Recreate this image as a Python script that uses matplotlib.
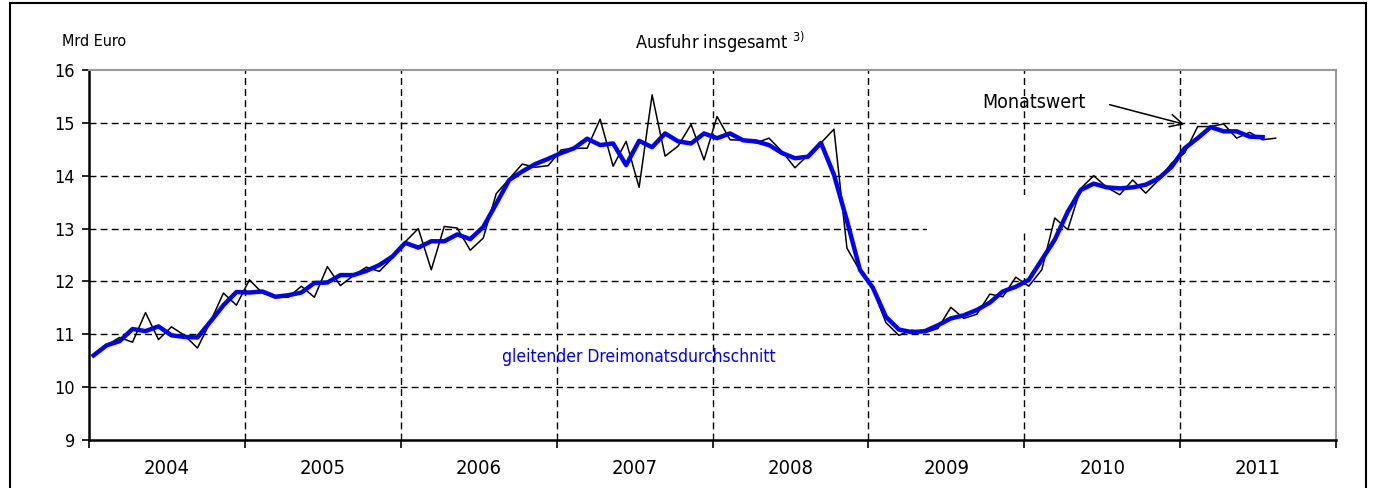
import matplotlib
matplotlib.use("Agg")
import matplotlib.pyplot as plt
from matplotlib.patches import Rectangle, FancyArrowPatch
import numpy as np

plt.rcParams['font.family'] = ['DejaVu Sans']
plt.rcParams['font.stretch'] = 'condensed'

years = ["2004", "2005", "2006", "2007", "2008", "2009", "2010", "2011"]
y_ticks = [9, 10, 11, 12, 13, 14, 15, 16]

monatswert = [
    10.60, 10.79, 10.94, 10.85, 11.41, 10.90, 11.14, 10.98, 10.74, 11.24, 11.78, 11.55,
    12.03, 11.78, 11.70, 11.70, 11.91, 11.70, 12.28, 11.92, 12.11, 12.27, 12.19, 12.44,
    12.75, 13.00, 12.22, 13.04, 13.01, 12.59, 12.82, 13.66, 13.94, 14.22, 14.16, 14.19,
    14.49, 14.52, 14.52, 15.07, 14.18, 14.65, 13.78, 15.53, 14.37, 14.56, 14.97, 14.30,
    15.12, 14.68, 14.67, 14.62, 14.71, 14.46, 14.15, 14.39, 14.62, 14.88, 12.63, 12.20,
    11.85, 11.22, 10.98, 11.08, 11.03, 11.11, 11.51, 11.30, 11.38, 11.76, 11.71, 12.08,
    11.91, 12.22, 13.20, 12.98, 13.76, 14.00, 13.78, 13.64, 13.92, 13.67, 13.92, 14.24,
    14.43, 14.93, 14.93, 14.98, 14.71, 14.82, 14.68, 14.71,
]

dreimonat = [
    10.60, 10.79, 10.87, 11.10, 11.06, 11.15, 10.98, 10.95, 10.94, 11.24, 11.55, 11.80,
    11.79, 11.81, 11.71, 11.74, 11.79, 11.97, 11.98, 12.12, 12.12, 12.20, 12.31, 12.47,
    12.73, 12.64, 12.76, 12.76, 12.89, 12.80, 13.03, 13.47, 13.92, 14.08, 14.22, 14.32,
    14.43, 14.52, 14.70, 14.58, 14.61, 14.20, 14.66, 14.54, 14.80, 14.65, 14.61, 14.80,
    14.71, 14.80, 14.67, 14.65, 14.58, 14.43, 14.33, 14.36, 14.62, 14.02, 13.15, 12.22,
    11.88, 11.33, 11.09, 11.04, 11.06, 11.17, 11.30, 11.36, 11.46, 11.60, 11.81, 11.90,
    12.03, 12.41, 12.79, 13.32, 13.73, 13.85, 13.78, 13.76, 13.78, 13.83, 13.95, 14.17,
    14.52, 14.71, 14.92, 14.84, 14.84, 14.74, 14.73,
]

W, H = 1373, 488
fig = plt.figure(figsize=(W / 100, H / 100), dpi=100)
ax = fig.add_axes([89 / W, 1 - 440 / H, (1336 - 89) / W, (440 - 70) / H])

n_months = 12 * len(years)
x_black = np.arange(len(monatswert)) + 0.35
x_blue = np.arange(len(dreimonat)) + 0.35

ax.set_xlim(0, n_months)
ax.set_ylim(9, 16)

dash = (0, (5, 3))
for yv in y_ticks[1:-1]:
    ax.axhline(yv, color='black', lw=1.0, ls=dash, zorder=1)
for k in range(1, len(years)):
    ax.axvline(12 * k, color='black', lw=1.0, ls=dash, zorder=1)

# white box interrupting the grid (present in the original)
fig.add_artist(Rectangle((927 / W, 1 - 233 / H), 118 / W, 38 / H,
                         transform=fig.transFigure, facecolor='white',
                         edgecolor='none', zorder=2.5))

ax.plot(x_black, monatswert, color='black', lw=1.1, zorder=3)
ax.plot(x_blue, dreimonat, color='#0000ff', lw=3.2, zorder=4, solid_joinstyle='round')

ax.spines['left'].set_color('black')
ax.spines['left'].set_linewidth(1.8)
ax.spines['bottom'].set_color('black')
ax.spines['bottom'].set_linewidth(1.8)
ax.spines['top'].set_color('#999999')
ax.spines['top'].set_linewidth(1.5)
ax.spines['right'].set_color('#999999')
ax.spines['right'].set_linewidth(1.5)

ax.set_yticks(y_ticks)
ax.set_yticklabels([str(v) for v in y_ticks], fontsize=13, fontweight='medium')
ax.tick_params(axis='y', direction='out', length=5, width=1.2, pad=5)
ax.set_xticks([12 * k for k in range(len(years) + 1)])
ax.set_xticklabels([])
ax.tick_params(axis='x', direction='out', length=6, width=1.2)
for k, yr in enumerate(years):
    ax.text(12 * k + 6, -0.05, yr, transform=ax.get_xaxis_transform(),
            ha='center', va='top', fontsize=14.5)

fig.text(62 / W, 1 - 42 / H, "Mrd Euro", fontsize=11.5, ha='left', va='center')
fig.text(720 / W, 1 - 42 / H, "Ausfuhr insgesamt $^{3)}$", fontsize=13, ha='center', va='center')

fig.text(639 / W, 1 - 357 / H, "gleitender Dreimonatsdurchschnitt", color='#0000ff',
         fontsize=12.5, ha='center', va='center')

fig.text(1034 / W, 1 - 103 / H, "Monatswert", fontsize=14, ha='center', va='center')
fig.add_artist(FancyArrowPatch(
    (1107 / W, 1 - 104 / H), (1187 / W, 1 - 125 / H), transform=fig.transFigure,
    arrowstyle='->,head_length=6,head_width=3', color='black', lw=1.1,
    mutation_scale=1.5))

fig.add_artist(Rectangle((10 / W, -0.05), (1366 - 10) / W, 1.05 - 3 / H,
                         transform=fig.transFigure, facecolor='none',
                         edgecolor='black', lw=1.5))

fig.savefig("out.png", dpi=100)
